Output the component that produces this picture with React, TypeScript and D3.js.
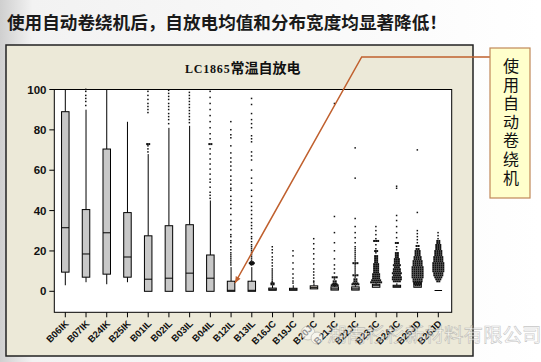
import React from "react";
import * as d3 from "d3";

const W = 541;
const H = 362;

const mainTitle = "使用自动卷绕机后，自放电均值和分布宽度均显著降低！";
const chartTitleLatin = "LC1865";
const chartTitleCJK = "常温自放电";
const calloutText = "使用自动卷绕机";
const watermark = "湖南杉杉新材料有限公司";

const categories = ["B06IK", "B07IK", "B24IK", "B25IK", "B01IL", "B02IL", "B03IL", "B04IL", "B12IL", "B13IL", "B16JC", "B19JC", "B20JC", "B21JC", "B22JC", "B23JC", "B24JC", "B25JD", "B26JD"];
const q1 = [9.5, 7, 8.5, 7, 0, 0, 0, 0, 0, 0, 0.5, 0.5, 1.2, 0.6, 0.6, 2, 2, 2, 0.4];
const medians = [31.5, 18.5, 29, 17, 6, 6.5, 9, 6.5, 0.5, 0.5, 1, 1, 1.8, 1.2, 1.2, 3, 2.5, 3.5, 0.4];
const q3 = [89, 40.5, 70.5, 39, 27.5, 32.5, 33, 18, 5, 5, 1.6, 1.5, 2.7, 2.2, 2.2, 3.5, 3, 4.5, 0.4];
const whiskerLo = [3, 4.5, 3.5, 4.5, 0, 0, 0, 0, 0, 0, 0.5, 0.5, 1.2, 0.6, 0.6, 2, 2, 2, 0.4];
const whiskerHi = [100, 90, 100, 84, 68, 81, 82, 45, 12, 12, 3, 3, 4, 3, 3, 4, 4, 4.5, 0.4];

// outliers: [value, count]
const outliers: [number, number][][] = [
  [],
  [[92, 1], [94, 1], [95.5, 1], [97, 1], [99, 1], [100, 1]],
  [],
  [],
  [[69, 1], [70.5, 1], [72, 1], [73, 2], [88.5, 1], [90, 1], [91.5, 1], [93, 1], [95, 1], [97, 1], [99, 1]],
  [[83, 1], [85, 1], [86.5, 1], [88, 1], [90, 1], [91.5, 1], [93, 1], [95, 1], [96.5, 1], [98, 1], [99.5, 1]],
  [[83.5, 1], [85, 1], [86.5, 1], [88, 1], [89.5, 1], [91, 1], [92.5, 1], [94, 1], [95.5, 1], [97, 1], [98.5, 1]],
  [[46, 1], [47.5, 1], [49, 1], [51.5, 1], [54, 1], [55.5, 1], [58, 1], [60.5, 1], [63, 1], [65.5, 1], [68, 1], [70.5, 1], [73, 2], [75.5, 1], [78, 1], [81, 1], [84, 1], [87, 1], [90, 1], [93, 1], [96, 1], [99, 1]],
  [[84, 1], [80, 1], [77.5, 1], [76, 1], [72, 1], [68.5, 1], [66, 1], [64, 1], [62, 1], [60, 1], [57, 1], [55, 1], [53, 1], [51, 1], [50, 1], [47, 1], [45, 1], [43, 1], [41, 1], [38, 1], [35, 1], [33, 1], [30.5, 1], [28, 1], [27, 1], [25, 1], [24, 1], [22, 1], [20.5, 1], [19, 1], [18, 1], [17, 1], [16, 1], [15, 1], [14, 1], [13, 1]],
  [[95.5, 1], [92.5, 1], [88, 1], [85, 1], [83, 1], [81, 1], [77, 1], [75.5, 1], [74, 1], [69, 1], [67, 1], [65, 1], [60, 1], [56, 1], [53.5, 1], [50, 1], [47, 1], [44, 1], [42, 1], [40, 1], [38, 1], [36, 1], [34, 1], [32.5, 1], [31, 1], [29, 1], [27, 1], [26, 1], [24.5, 1], [23, 1], [22, 1], [21, 1], [20, 1], [19, 1], [18, 1], [17, 1], [16, 1], [15, 1], [14.5, 2], [14, 3], [13.5, 2], [13, 1]],
  [[22, 1], [20.5, 1], [19, 1], [17, 1], [15.5, 1], [14, 1], [12.5, 1], [11, 1], [10, 1], [9, 1], [8, 1], [7, 1], [6, 1], [5, 1], [4.5, 1], [4, 2], [3.5, 2]],
  [[20, 1], [17.5, 1], [14, 1], [11, 1], [8.5, 1], [6.5, 1], [5, 1], [4, 1]],
  [[26, 1], [23.5, 1], [21, 1], [18.5, 1], [16, 1], [13.5, 1], [11, 1], [9.5, 1], [8, 1], [6.5, 1], [5, 1], [4.5, 1]],
  [[93, 1], [37, 1], [29, 1], [24, 1], [20, 1], [16, 1], [13, 1], [11, 1], [9, 1], [7, 3], [6, 1], [5, 2], [4, 2], [3.5, 3], [3, 4]],
  [[71, 1], [56, 1], [36, 1], [32, 1], [29, 1], [26.5, 1], [24, 1], [22, 1], [21, 1], [20, 1], [19, 1], [18, 1], [17, 1], [16, 1], [15, 1], [14, 3], [13, 1], [12, 1], [11, 1], [10, 1], [9, 1], [8, 3], [7, 1], [6, 2], [5, 2], [4, 3], [3.5, 4]],
  [[32, 1], [30, 1], [28, 1], [26, 1], [25, 3], [23, 1], [21, 1], [20, 2], [19, 1], [17.5, 2], [16.5, 2], [15.5, 2], [14.5, 2], [13.5, 3], [12.5, 3], [11.5, 3], [10.5, 3], [9.5, 3], [8.5, 4], [7.5, 4], [6.5, 4], [5.5, 5], [4.5, 6]],
  [[52, 1], [51, 1], [37.5, 1], [35, 1], [32, 1], [29, 1], [26.5, 1], [24, 2], [22, 1], [20.5, 1], [19, 2], [18, 2], [17, 2], [16, 3], [15, 3], [14, 3], [13, 4], [12, 3], [11, 4], [10, 4], [9, 5], [8, 4], [7, 5], [6, 5], [5, 4]],
  [[70, 1], [39, 1], [30, 1], [28.5, 1], [27, 1], [25.5, 1], [24, 1], [22.5, 2], [21, 2], [20, 3], [19, 3], [18, 3], [17, 4], [16, 4], [15, 5], [14, 5], [13, 5], [12, 6], [11, 6], [10, 6], [9, 6], [8, 6], [7, 6], [6, 5], [5, 5], [4, 4], [3, 3]],
  [[29, 1], [27.5, 1], [26, 1], [25, 2], [24, 2], [23, 3], [22, 3], [21, 3], [20, 4], [19, 4], [18, 4], [17, 5], [16, 5], [15, 5], [14, 6], [13, 6], [12, 6], [11, 6], [10, 6], [9, 5], [8, 5], [7, 4], [6, 3], [5, 2]],
];

const yTicks = [0, 20, 40, 60, 80, 100];

const plot = { left: 54.3, right: 451.7, top: 89.5, bottom: 312.3 };

export default function App() {
  const x = d3.scalePoint<string>().domain(categories).range([65.3, 438.3]);
  const y = d3.scaleLinear().domain([-10.4, 100]).range([plot.bottom, plot.top]);
  const bw = 7.5;
  const lineColor = "#C0602E";

  const arrowTip = { x: 235, y: 283 };
  const bend = { x: 361.7, y: 57 };
  const ang = Math.atan2(arrowTip.y - bend.y, arrowTip.x - bend.x);
  const ah = 7;
  const a1 = { x: arrowTip.x - ah * Math.cos(ang - 0.4), y: arrowTip.y - ah * Math.sin(ang - 0.4) };
  const a2 = { x: arrowTip.x - ah * Math.cos(ang + 0.4), y: arrowTip.y - ah * Math.sin(ang + 0.4) };

  return (
    <svg width={W} height={H} style={{ position: "absolute", left: 0, top: 0 }} xmlns="http://www.w3.org/2000/svg">
      <defs>
        <linearGradient id="lg" x1="0" x2="1" y1="0" y2="0">
          <stop offset="0" stopColor="#cfcfcf" />
          <stop offset="0.06" stopColor="#f2f2f2" />
          <stop offset="1" stopColor="#ffffff" />
        </linearGradient>
      </defs>
      <rect x={0} y={0} width={W} height={H} fill="url(#lg)" />
      <text x={7} y={28.5} fontFamily="'Noto Sans CJK SC'" fontWeight="bold" fontSize={17.6} fill="#1a1a1a">{mainTitle}</text>

      {/* panel */}
      <rect x={6} y={45} width={467} height={311} fill="#ECE9D8" stroke="#222" strokeWidth={1.5} />
      <text x={185} y={73} fontWeight="bold" fill="#111">
        <tspan fontFamily="'Liberation Serif'" fontSize={12} letterSpacing={0.8}>{chartTitleLatin}</tspan>
        <tspan fontFamily="'Noto Sans CJK SC'" fontSize={14}>{chartTitleCJK}</tspan>
      </text>

      {/* plot area */}
      <rect x={plot.left} y={plot.top} width={plot.right - plot.left} height={plot.bottom - plot.top} fill="#fff" stroke="#000" strokeWidth={1} />

      {yTicks.map((t) => (
        <g key={t}>
          <line x1={plot.left - 5} x2={plot.left} y1={y(t)} y2={y(t)} stroke="#000" />
          <text x={46.5} y={y(t) + 4} textAnchor="end" fontFamily="'Liberation Sans'" fontWeight="bold" fontSize={11.5} fill="#111">{t}</text>
        </g>
      ))}

      {categories.map((c) => {
        const cx = x(c)!;
        return (
          <g key={c}>
            <line x1={cx} x2={cx} y1={plot.bottom} y2={plot.bottom + 5} stroke="#000" />
            <text transform={`translate(${cx + 4},${plot.bottom + 12}) rotate(-45)`} textAnchor="end" fontFamily="'Liberation Sans'" fontWeight="bold" fontSize={9.5} fill="#111">{c}</text>
          </g>
        );
      })}

      {categories.map((c, i) => {
        const cx = x(c)!;
        return (
          <g key={"b" + c}>
            <line x1={cx} x2={cx} y1={y(q3[i])} y2={y(whiskerHi[i])} stroke="#000" strokeWidth={1} />
            <line x1={cx} x2={cx} y1={y(q1[i])} y2={y(whiskerLo[i])} stroke="#000" strokeWidth={1} />
            <rect x={cx - bw / 2} y={y(q3[i])} width={bw} height={Math.max(0, y(q1[i]) - y(q3[i]))} fill={i === 12 ? "#E4DCD0" : "#C8C8C8"} stroke="#000" strokeWidth={1} />
            <line x1={cx - bw / 2} x2={cx + bw / 2} y1={y(medians[i])} y2={y(medians[i])} stroke="#000" strokeWidth={1} />
            {outliers[i].map(([v, n], j) =>
              d3.range(n).map((k) => (
                <rect key={j + "-" + k} x={cx + (k - (n - 1) / 2) * 2 - 1} y={y(v) - 0.9} width={n > 1 ? 2 : 1.5} height={n > 1 ? 2 : 1.5} fill="#111" />
              ))
            )}
          </g>
        );
      })}

      {/* callout */}
      <polyline points={`490,${bend.y} ${bend.x},${bend.y} ${arrowTip.x},${arrowTip.y}`} fill="none" stroke={lineColor} strokeWidth={1.5} />
      <polygon points={`${arrowTip.x},${arrowTip.y} ${a1.x},${a1.y} ${a2.x},${a2.y}`} fill={lineColor} />
      <rect x={490} y={48} width={40} height={150} fill="#FFFFCC" stroke="#C08858" strokeWidth={1.2} />
      <text x={511} y={58} writingMode="vertical-rl" style={{ writingMode: "vertical-rl" } as any} letterSpacing={2.6} fontFamily="'Noto Sans CJK SC'" fontSize={16} fill="#111">{calloutText}</text>

      {/* watermark */}
      <g opacity={0.55}>
        <circle cx={308} cy={333} r={7} fill="#fff" stroke="#aaa" strokeWidth={1} />
        <circle cx={317} cy={338} r={6} fill="#fff" stroke="#aaa" strokeWidth={1} />
        <text x={327} y={342} fontFamily="'Noto Sans CJK SC'" fontSize={19.5} fill="#fff" stroke="#999" strokeWidth={0.6}>{watermark}</text>
      </g>
    </svg>
  );
}
